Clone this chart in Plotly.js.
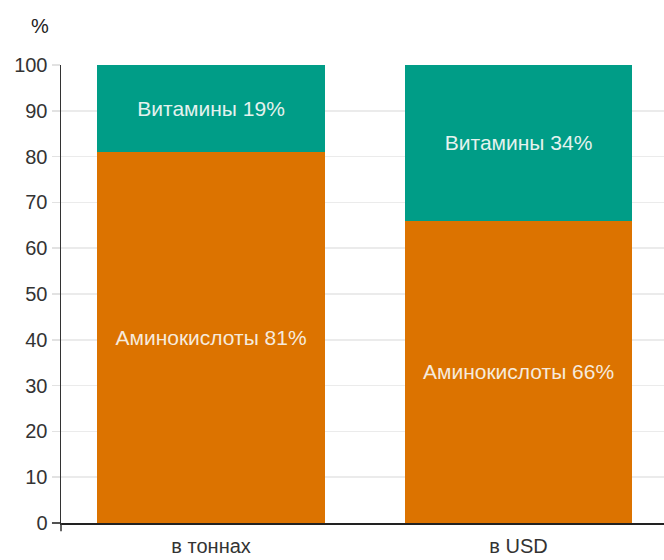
<!DOCTYPE html>
<html>
<head>
<meta charset="utf-8">
<script src="https://cdn.plot.ly/plotly-3.0.1.min.js"></script>
<style>body{margin:0;background:#fff}</style>
</head>
<body>
<div id="plot" style="width:664px;height:560px"></div>
<script>
// shares by weight and by value
var categories = ["в тоннах", "в USD"];
var aminoValues = [81, 66];
var vitaminValues = [19, 34];
var aminoName = "Аминокислоты";
var vitaminName = "Витамины";
var yTicks = [0, 10, 20, 30, 40, 50, 60, 70, 80, 90, 100];

var FONT = "'Liberation Sans', Arial, sans-serif";

var trace1 = {
  x: categories,
  y: aminoValues,
  type: "bar",
  name: aminoName,
  width: 0.74,
  marker: { color: "#dc7300" },
  text: aminoValues.map(v => aminoName + " " + v + "%"),
  textposition: "inside",
  insidetextanchor: "middle",
  constraintext: "none",
  textfont: { family: FONT, size: 21, color: "#f6eadc" },
  hoverinfo: "none"
};

var trace2 = {
  x: categories,
  y: vitaminValues,
  type: "bar",
  name: vitaminName,
  width: 0.74,
  marker: { color: "#009d87" },
  text: vitaminValues.map(v => vitaminName + " " + v + "%"),
  textposition: "inside",
  insidetextanchor: "middle",
  constraintext: "none",
  textfont: { family: FONT, size: 21, color: "#e4f2ee" },
  hoverinfo: "none"
};

var layout = {
  barmode: "stack",
  showlegend: false,
  width: 664,
  height: 560,
  margin: { l: 61, r: 0, t: 65, b: 37 },
  paper_bgcolor: "#fff",
  plot_bgcolor: "#fff",
  font: { family: FONT, color: "#333" },
  xaxis: {
    range: [-0.488, 1.473],
    showline: true,
    linecolor: "#222",
    linewidth: 1.5,
    ticks: "",
    ticklabelstandoff: 4,
    tickfont: { family: FONT, size: 20, color: "#333" },
    fixedrange: true
  },
  yaxis: {
    range: [0, 100],
    tickvals: yTicks,
    showline: true,
    linecolor: "#333",
    linewidth: 1.5,
    ticks: "outside",
    ticklen: 8,
    tickcolor: "#e2e2e2",
    tickwidth: 1.5,
    showgrid: true,
    gridcolor: "#ebebeb",
    gridwidth: 1.5,
    zeroline: false,
    tickfont: { family: FONT, size: 20, color: "#333" },
    fixedrange: true
  },
  shapes: [
    // dark tick at zero and the axis line running a bit below it
    { type: "line", xref: "paper", yref: "paper", x0: -0.015, x1: 0, y0: 0, y1: 0,
      line: { color: "#222", width: 1.5 } },
    { type: "line", xref: "paper", yref: "paper", x0: 0, x1: 0, y0: 0, y1: -0.018,
      line: { color: "#333", width: 1.5 } }
  ],
  annotations: [{
    text: "%",
    xref: "paper", yref: "paper",
    x: -0.035, y: 1.085,
    xanchor: "center", yanchor: "middle",
    showarrow: false,
    font: { family: FONT, size: 20, color: "#222" }
  }]
};

Plotly.newPlot("plot", [trace1, trace2], layout, { displayModeBar: false, staticPlot: true });
</script>
</body>
</html>
